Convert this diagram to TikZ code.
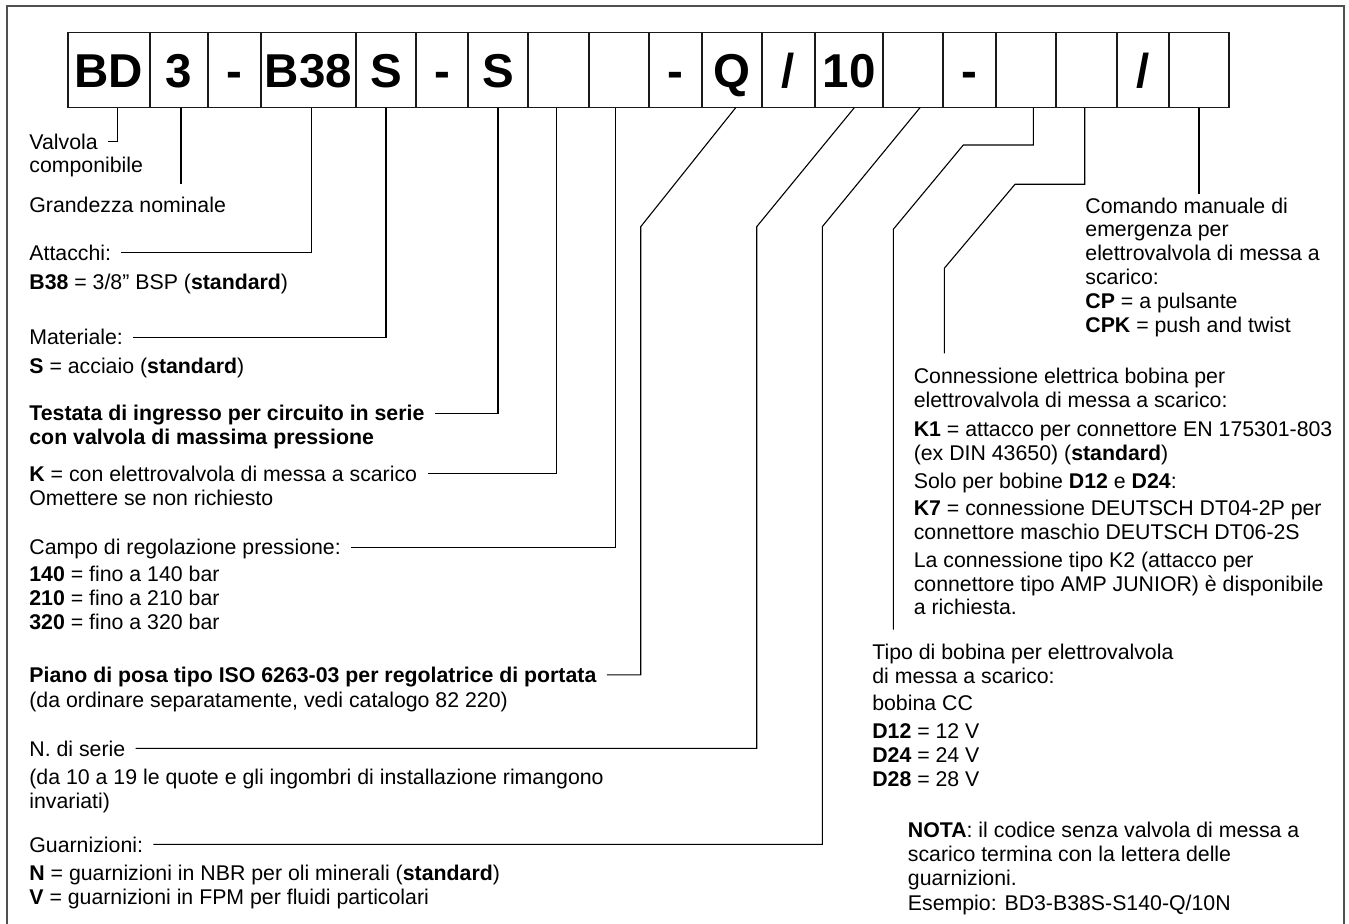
\documentclass[tikz,border=0pt]{standalone}
\usepackage{fontspec}
\setmainfont{Liberation Sans}
\usepackage{xcolor}
\definecolor{framegray}{HTML}{505050}
\definecolor{inkline}{HTML}{1A1A1A}
\newcommand{\bodysize}{\fontsize{10.65pt}{11.9pt}\selectfont}
\newcommand{\cellsize}{\fontsize{23.75pt}{28pt}\selectfont\bfseries}
\tikzset{
    cell/.style={draw=inkline, line width=0.6pt, inner sep=0pt, outer sep=0pt,
        minimum height=37.5pt, text height=17pt, text depth=0pt, font=\cellsize},
    lbl/.style={anchor=base west, inner sep=0pt, text height=7.6pt, text depth=0pt, font=\bodysize},
    % multi-line texts sit on the baseline of their last line
    txt/.style={anchor=base west, inner sep=0pt, align=left, font=\bodysize},
    leader/.style={draw=black, line width=0.55pt},
    gapped/.style={leader, shorten <=5pt}
}

\begin{document}
\begin{tikzpicture}[x=0.5pt, y=-0.5pt]
    \useasboundingbox (0,0) rectangle (1349,924);

    % Sheet frame (runs off the bottom edge)
    \draw[framegray, line width=0.9pt] (7.3,930) -- (7.3,5.7) -- (1344.3,5.7) -- (1344.3,930);

    % Ordering code boxes
    \foreach \l/\r/\n/\t in {68/150/bd/BD, 150/208/size/3, 208/261/dashA/-, 261/356/port/B38,
        356/416/mat/S, 416/468/dashB/-, 468/528/head/S, 528/589/valve/{}, 589/649/press/{},
        649/702/dashC/-, 702/762/plate/Q, 762/815/slashA/{/}, 815/883/series/10, 883/943/seals/{},
        943/996/dashD/-, 996/1056/coil/{}, 1056/1117/conn/{}, 1117/1169/slashB/{/}, 1169/1229/manual/{}} {
        \node[cell, minimum width={(\r-\l)*0.5pt}] (\n) at ({(\l+\r)/2},70.2) {\t};
    }

    % Left column descriptions
    \node[lbl] (lValv) at (29,149.5) {Valvola};
    \node[txt] (lComp) at (29,173) {componibile};
    \node[txt] (lSize) at (29,212.5) {Grandezza nominale};
    \node[lbl] (lPort) at (29,260.5) {Attacchi:};
    \node[txt] (lPortV) at (29,290) {\textbf{B38} = 3/8” BSP (\textbf{standard})};
    \node[lbl] (lMat) at (29,344.8) {Materiale:};
    \node[txt] (lMatV) at (29,373.2) {\textbf{S} = acciaio (\textbf{standard})};
    \node[lbl, font=\bodysize\bfseries] (lHead) at (29,420.8) {Testata di ingresso per circuito in serie};
    \node[txt, font=\bodysize\bfseries] (lHeadB) at (29,444.2) {con valvola di massima pressione};
    \node[lbl] (lValve) at (29,481.5) {\textbf{K} = con elettrovalvola di messa a scarico};
    \node[txt] (lValveB) at (29,505.8) {Omettere se non richiesto};
    \node[lbl] (lPress) at (29,554.8) {Campo di regolazione pressione:};
    \node[txt] (lPressV) at (29,629.3) {\textbf{140} = fino a 140 bar\\\textbf{210} = fino a 210 bar\\\textbf{320} = fino a 320 bar};
    \node[lbl, font=\bodysize\bfseries] (lPlate) at (29,682.5) {Piano di posa tipo ISO 6263-03 per regolatrice di portata};
    \node[txt] (lPlateB) at (29,707) {(da ordinare separatamente, vedi catalogo 82 220)};
    \node[lbl] (lSer) at (29,756) {N. di serie};
    \node[txt] (lSerB) at (29,808.5) {(da 10 a 19 le quote e gli ingombri di installazione rimangono\\invariati)};
    \node[lbl] (lSeal) at (29,852) {Guarnizioni:};
    \node[txt] (lSealV) at (29,904.4) {\textbf{N} = guarnizioni in NBR per oli minerali (\textbf{standard})\\\textbf{V} = guarnizioni in FPM per fluidi particolari};

    % Right column descriptions
    \node[txt] (lMan) at (1085,332.2) {Comando manuale di\\emergenza per\\elettrovalvola di messa a\\scarico:\\\textbf{CP} = a pulsante\\\textbf{CPK} = push and twist};
    \node[txt] (lConn) at (913.4,615) {Connessione elettrica bobina per\\elettrovalvola di messa a scarico:\\[2.85pt]\textbf{K1} = attacco per connettore EN 175301-803\\(ex DIN 43650) (\textbf{standard})\\[2.3pt]Solo per bobine \textbf{D12} e \textbf{D24}:\\[1.4pt]\textbf{K7} = connessione DEUTSCH DT04-2P per\\connettore maschio DEUTSCH DT06-2S\\[2.25pt]La connessione tipo K2 (attacco per\\connettore tipo AMP JUNIOR) è disponibile\\a richiesta.};
    \node[txt] (lCoil) at (871.9,786.3) {Tipo di bobina per elettrovalvola\\di messa a scarico:\\[1.7pt]bobina CC\\[2.25pt]\textbf{D12} = 12 V\\\textbf{D24} = 24 V\\\textbf{D28} = 28 V};
    \node[txt] (lNote) at (907.5,910.8) {\textbf{NOTA}: il codice senza valvola di messa a\\scarico termina con la lettera delle\\guarnizioni.\\[0.8pt]Esempio: BD3-B38S-S140-Q/10N};

    % Leaders from the boxes to their descriptions
    \draw[gapped] (lValv.east) -| ([xshift=4.15pt]bd.south);
    \draw[leader, shorten >=6.5pt] ([xshift=1pt]size.south) -- ([xshift=1pt]size.south |- lSize.north);
    \draw[gapped] (lPort.east) -| ([xshift=1.6pt]port.south);
    \draw[gapped] (lMat.east) -| (mat.south);
    \draw[gapped] (lHead.east) -| (head.south);
    \draw[gapped] (lValve.east) -| ([xshift=-1.1pt]valve.south);
    \draw[gapped] (lPress.east) -| ([xshift=-1.85pt]press.south);
    \draw[gapped] (lPlate.east) -| (640.7,226.7) -- ([xshift=1.85pt]plate.south);
    \draw[gapped] (lSer.east) -| (756.7,226.7) -- ([xshift=2.65pt]series.south);
    \draw[gapped] (lSeal.east) -| (822.3,226.7) -- ([xshift=3.5pt]seals.south);
    \draw[leader, shorten <=7pt] ([xshift=10.7pt]lCoil.north west) -- (893.3,229.3) -- (963.3,145) -| ([xshift=3.65pt]coil.south);
    \draw[leader, shorten <=7pt] ([xshift=15.45pt]lConn.north west) -- (944.3,268.3) -- (1015,184.3) -| ([xshift=-0.9pt]conn.south);
    \draw[leader, shorten >=1.8pt] (manual.south) -- (manual.south |- lMan.north);

\end{tikzpicture}
\end{document}
